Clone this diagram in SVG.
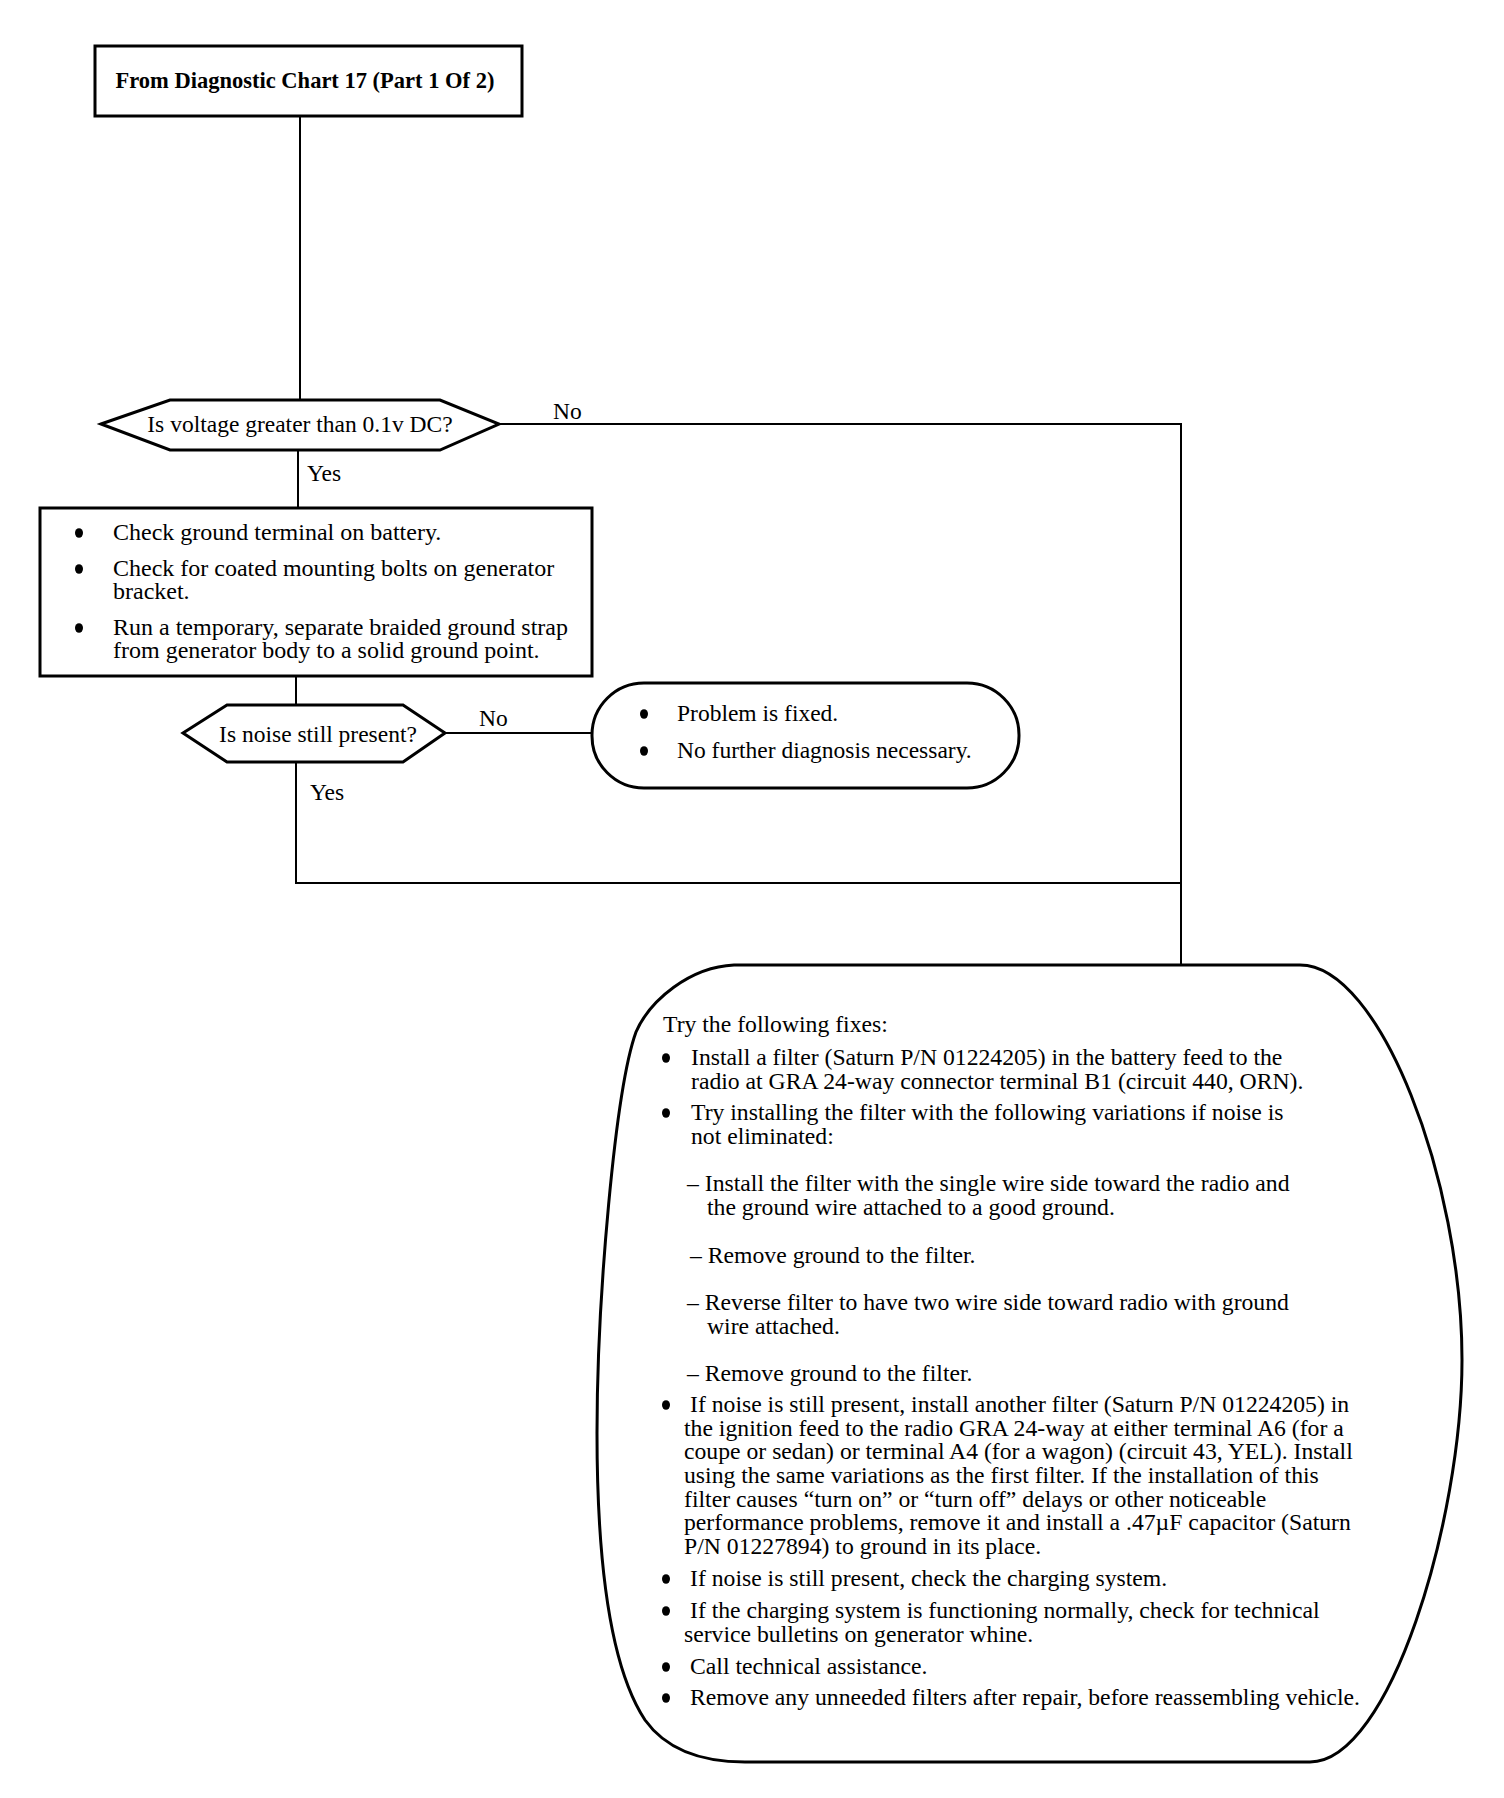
<svg xmlns="http://www.w3.org/2000/svg" width="1504" height="1798" viewBox="0 0 1504 1798">
<style>
  .bg { fill: #ffffff; }
  .shape { fill: #ffffff; stroke: #000000; stroke-width: 3; stroke-linejoin: miter; }
  .conn { fill: none; stroke: #000000; stroke-width: 2; }
  .t { font-family: "Liberation Serif", "Times New Roman", serif; font-size: 23.5px; fill: #000000; }
  .tb { font-family: "Liberation Serif", "Times New Roman", serif; font-size: 22.5px; font-weight: bold; fill: #000000; }
  .box { font-size: 24px; }
  .big { font-size: 23.7px; }
  .dot { fill: #000000; }
</style>
<rect class="bg" x="0" y="0" width="1504" height="1798"/>

<g id="connectors">
  <path class="conn" d="M300,116 V400"/>
  <path class="conn" d="M298,450 V508"/>
  <path class="conn" d="M296,676 V705"/>
  <path class="conn" d="M296,762 V883 H1181"/>
  <path class="conn" d="M499,424 H1181 V965"/>
  <path class="conn" d="M445,733 H592"/>
  <text class="t" x="553" y="419">No</text>
  <text class="t" x="307" y="481">Yes</text>
  <text class="t" x="479" y="726">No</text>
  <text class="t" x="310" y="800">Yes</text>
</g>

<g id="start">
  <rect class="shape" x="95" y="46" width="427" height="70"/>
  <text class="tb" x="305" y="88" text-anchor="middle">From Diagnostic Chart 17 (Part 1 Of 2)</text>
</g>

<g id="decision1">
  <polygon class="shape" points="101,424 170,400 440,400 499,424 440,450 170,450"/>
  <text class="t" x="300" y="432" text-anchor="middle">Is voltage greater than 0.1v DC?</text>
</g>

<g id="checks">
  <rect class="shape" x="40" y="508" width="552" height="168"/>
  <ellipse class="dot" cx="79" cy="533" rx="4" ry="4.8"/>
  <text class="t box" x="113" y="540">Check ground terminal on battery.</text>
  <ellipse class="dot" cx="79" cy="569" rx="4" ry="4.8"/>
  <text class="t box" x="113" y="576">Check for coated mounting bolts on generator</text>
  <text class="t box" x="113" y="599">bracket.</text>
  <ellipse class="dot" cx="79" cy="628" rx="4" ry="4.8"/>
  <text class="t box" x="113" y="635">Run a temporary, separate braided ground strap</text>
  <text class="t box" x="113" y="658">from generator body to a solid ground point.</text>
</g>

<g id="decision2">
  <polygon class="shape" points="183,733 227,705 403,705 445,733 403,762 227,762"/>
  <text class="t" x="318" y="742" text-anchor="middle">Is noise still present?</text>
</g>

<g id="fixed">
  <rect class="shape" x="592" y="683" width="427" height="105" rx="52" ry="52"/>
  <ellipse class="dot" cx="644" cy="714" rx="4" ry="4.8"/>
  <text class="t" x="677" y="721">Problem is fixed.</text>
  <ellipse class="dot" cx="644" cy="751" rx="4" ry="4.8"/>
  <text class="t" x="677" y="758">No further diagnosis necessary.</text>
</g>

<g id="fixes">
  <path class="shape" stroke-width="3.5" d="M734,965 L1300,965 C1380,965 1462,1180 1462,1360 C1462,1520 1390,1762 1310,1762 L745,1762 C700,1762 665,1748 645,1720 C612,1670 597,1570 597,1433 C597,1300 615,1090 636,1032 C650,1000 690,967 734,965 Z"/>
  <text class="t big" x="663" y="1032">Try the following fixes:</text>
  <ellipse class="dot" cx="666" cy="1058" rx="4" ry="4.8"/>
  <text class="t big" x="691" y="1065">Install a filter (Saturn P/N 01224205) in the battery feed to the</text>
  <text class="t big" x="691" y="1089">radio at GRA 24-way connector terminal B1 (circuit 440, ORN).</text>
  <ellipse class="dot" cx="666" cy="1113" rx="4" ry="4.8"/>
  <text class="t big" x="691" y="1120">Try installing the filter with the following variations if noise is</text>
  <text class="t big" x="691" y="1144">not eliminated:</text>
  <text class="t big" x="687" y="1191">– Install the filter with the single wire side toward the radio and</text>
  <text class="t big" x="707" y="1215">the ground wire attached to a good ground.</text>
  <text class="t big" x="690" y="1263">– Remove ground to the filter.</text>
  <text class="t big" x="687" y="1310">– Reverse filter to have two wire side toward radio with ground</text>
  <text class="t big" x="707" y="1334">wire attached.</text>
  <text class="t big" x="687" y="1381">– Remove ground to the filter.</text>
  <ellipse class="dot" cx="666" cy="1405" rx="4" ry="4.8"/>
  <text class="t big" x="690" y="1412">If noise is still present, install another filter (Saturn P/N 01224205) in</text>
  <text class="t big" x="684" y="1436">the ignition feed to the radio GRA 24-way at either terminal A6 (for a</text>
  <text class="t big" x="684" y="1459">coupe or sedan) or terminal A4 (for a wagon) (circuit 43, YEL). Install</text>
  <text class="t big" x="684" y="1483">using the same variations as the first filter. If the installation of this</text>
  <text class="t big" x="684" y="1507">filter causes “turn on” or “turn off” delays or other noticeable</text>
  <text class="t big" x="684" y="1530">performance problems, remove it and install a .47µF capacitor (Saturn</text>
  <text class="t big" x="684" y="1554">P/N 01227894) to ground in its place.</text>
  <ellipse class="dot" cx="666" cy="1579" rx="4" ry="4.8"/>
  <text class="t big" x="690" y="1586">If noise is still present, check the charging system.</text>
  <ellipse class="dot" cx="666" cy="1611" rx="4" ry="4.8"/>
  <text class="t big" x="690" y="1618">If the charging system is functioning normally, check for technical</text>
  <text class="t big" x="684" y="1642">service bulletins on generator whine.</text>
  <ellipse class="dot" cx="666" cy="1667" rx="4" ry="4.8"/>
  <text class="t big" x="690" y="1674">Call technical assistance.</text>
  <ellipse class="dot" cx="666" cy="1698" rx="4" ry="4.8"/>
  <text class="t big" x="690" y="1705">Remove any unneeded filters after repair, before reassembling vehicle.</text>
</g>
</svg>
